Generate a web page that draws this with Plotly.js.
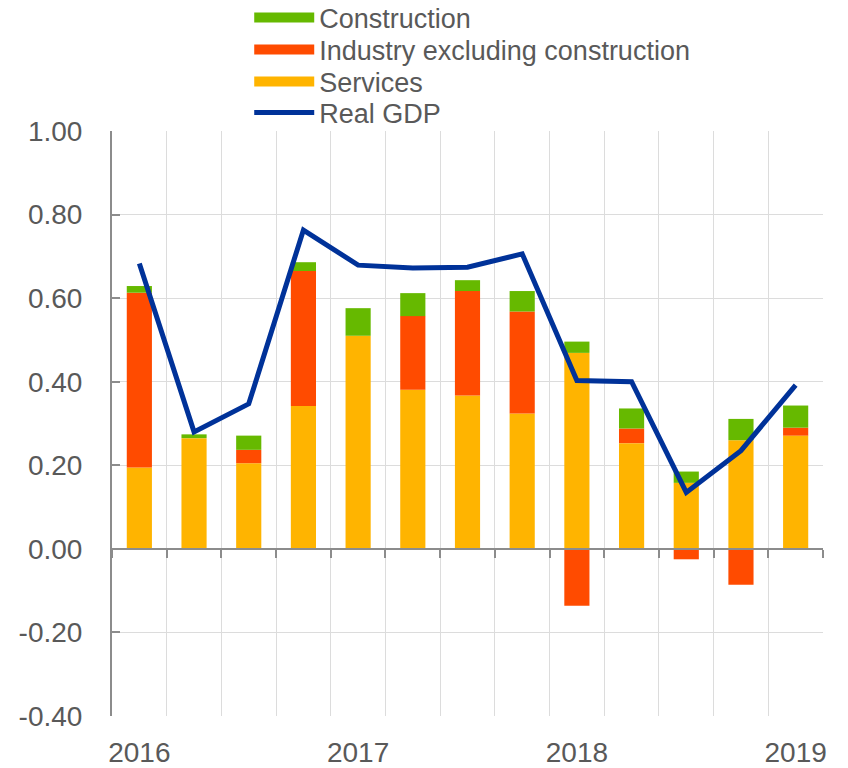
<!DOCTYPE html>
<html>
<head>
<meta charset="utf-8">
<script src="https://cdn.plot.ly/plotly-3.0.1.min.js"></script>
<style>html,body{margin:0;padding:0;background:#fff;}#chart{width:848px;height:768px;}</style>
</head>
<body>
<div id="chart"></div>
<script>
const quarters = ['2016 Q1','2016 Q2','2016 Q3','2016 Q4','2017 Q1','2017 Q2','2017 Q3','2017 Q4','2018 Q1','2018 Q2','2018 Q3','2018 Q4','2019 Q1'];
const services = [0.195, 0.265, 0.205, 0.342, 0.510, 0.381, 0.367, 0.324, 0.469, 0.253, 0.158, 0.260, 0.271];
const industry = [0.418, 0.000, 0.032, 0.323, 0.000, 0.176, 0.250, 0.244, -0.136, 0.035, -0.025, -0.086, 0.019];
const construction = [0.016, 0.009, 0.034, 0.021, 0.066, 0.055, 0.026, 0.049, 0.027, 0.048, 0.027, 0.051, 0.053];
const realGDP = [0.683, 0.280, 0.347, 0.763, 0.679, 0.672, 0.674, 0.706, 0.403, 0.400, 0.135, 0.235, 0.392];
const yearTickQuarters = ['2016 Q1','2017 Q1','2018 Q1','2019 Q1'];
const yearTickLabels = ['2016','2017','2018','2019'];
const yTickVals = [-0.4, -0.2, 0, 0.2, 0.4, 0.6, 0.8, 1.0];
const yTickLabels = ['-0.40','-0.20','0.00','0.20','0.40','0.60','0.80','1.00'];

const C_CON = '#66b900', C_IND = '#ff4b00', C_SER = '#ffb400', C_GDP = '#003299';
const FONT = 'Liberation Sans, Arial, sans-serif';
const TXT = '#595959';
const AX = '#8c8c8c';

function proxy(name, color, legendId) {
  return {type:'scatter', mode:'lines', x:[null], y:[null], name:name, legend:legendId,
          line:{color:color, width:14}, hoverinfo:'skip', xaxis:'x', yaxis:'y'};
}
function bar(vals, color, name) {
  return {type:'bar', x:quarters, y:vals, name:name, marker:{color:color, line:{width:0}},
          width:0.46, showlegend:false, xaxis:'x', yaxis:'y'};
}
const data = [
  proxy('Construction', C_CON, 'legend'),
  proxy('Industry excluding construction', C_IND, 'legend2'),
  proxy('Services', C_SER, 'legend3'),
  bar(services, C_SER, 'Services'),
  bar(industry, C_IND, 'Industry excluding construction'),
  bar(construction, C_CON, 'Construction'),
  {type:'scatter', mode:'lines', x:quarters, y:realGDP, name:'Real GDP', legend:'legend4',
   line:{color:C_GDP, width:5}, xaxis:'x2', yaxis:'y'}
];

function leg(yc) {
  return {x:0.193, y:(716 - yc) / 585, xanchor:'left', yanchor:'middle', bgcolor:'rgba(0,0,0,0)',
          font:{family:FONT, size:27, color:TXT}, itemwidth:60,
          itemclick:false, itemdoubleclick:false};
}

const layout = {
  width:848, height:768,
  margin:{l:112, r:25, t:131, b:52, autoexpand:false},
  paper_bgcolor:'#fff', plot_bgcolor:'#fff',
  barmode:'relative',
  font:{family:FONT, size:28, color:TXT},
  showlegend:true,
  legend:leg(18), legend2:leg(50), legend3:leg(82), legend4:leg(113),
  xaxis:{type:'category', categoryorder:'array', categoryarray:quarters,
         range:[-0.5, 12.5], anchor:'free', position:0.4/1.4,
         tickson:'boundaries', ticks:'outside', ticklen:8, tickwidth:2, tickcolor:AX,
         showticklabels:false, showgrid:true, gridcolor:'#dcdcdc', gridwidth:1,
         showline:true, linecolor:AX, linewidth:2, zeroline:false, fixedrange:true},
  xaxis2:{type:'category', categoryorder:'array', categoryarray:quarters,
          range:[-0.5, 12.5], overlaying:'x', anchor:'y', side:'bottom',
          tickmode:'array', tickvals:yearTickQuarters, ticktext:yearTickLabels,
          ticks:'', showgrid:false, showline:false, zeroline:false,
          tickfont:{family:FONT, size:28, color:TXT}, ticklabelstandoff:17, fixedrange:true},
  yaxis:{range:[-0.4, 1.0], tickmode:'array', tickvals:yTickVals, ticktext:yTickLabels,
         ticks:'inside', ticklen:8, tickwidth:2, tickcolor:AX,
         showline:true, linecolor:AX, linewidth:2,
         showgrid:true, gridcolor:'#dcdcdc', gridwidth:1, zeroline:false,
         tickfont:{family:FONT, size:28, color:TXT}, ticklabelstandoff:22, fixedrange:true}
};

Plotly.newPlot('chart', data, layout, {displayModeBar:false, staticPlot:true});
</script>
</body>
</html>
